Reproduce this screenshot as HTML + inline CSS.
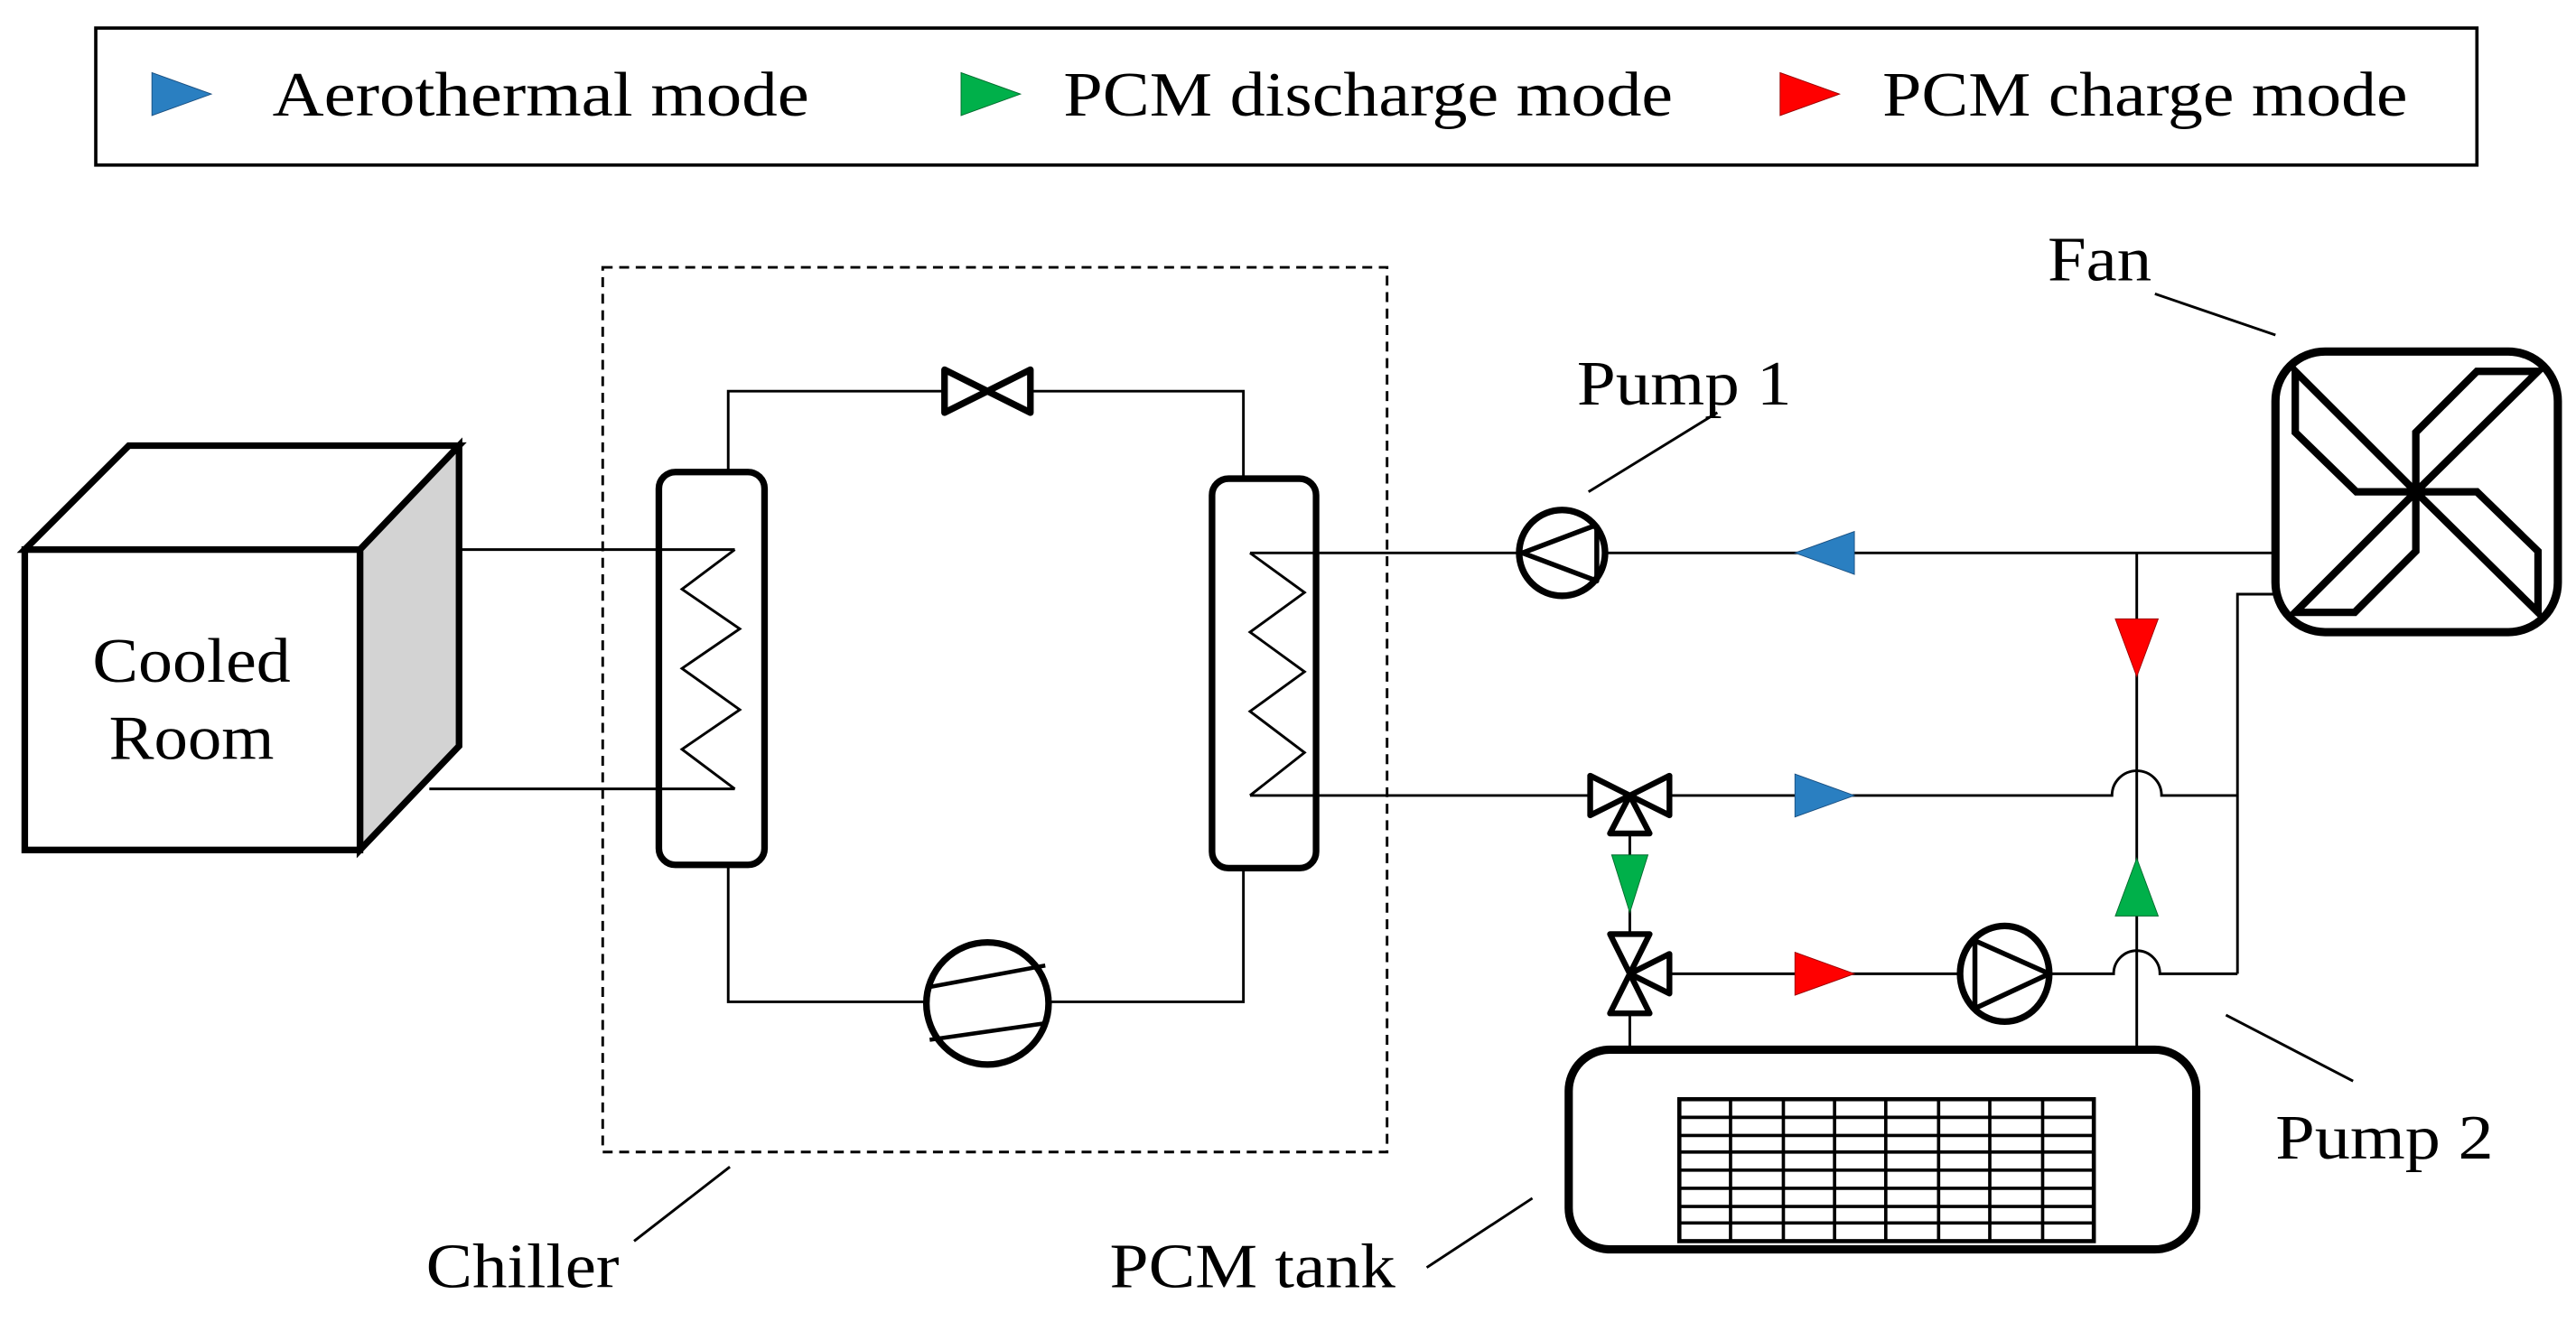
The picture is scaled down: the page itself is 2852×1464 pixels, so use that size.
<!DOCTYPE html>
<html><head><meta charset="utf-8"><style>
html,body{margin:0;padding:0;background:#fff;}
svg{display:block;}
text{font-family:"Liberation Serif",serif;font-size:38px;fill:#000;}
</style></head><body>
<svg width="2852" height="1464" viewBox="0 0 1560 801" preserveAspectRatio="none" xmlns="http://www.w3.org/2000/svg">
<rect width="1560" height="801" fill="#fff"/>
<!-- legend -->
<rect x="58" y="17" width="1442" height="83" fill="none" stroke="#000" stroke-width="2"/>
<polygon points="92,44 128,57 92,70" fill="#2a7fc1" stroke="#1a4f80" stroke-width="0.5"/>
<text x="165" y="70" textLength="325" lengthAdjust="spacingAndGlyphs">Aerothermal mode</text>
<polygon points="582,44 618,57 582,70" fill="#00b04a" stroke="#006a2c" stroke-width="0.5"/>
<text x="644" y="70" textLength="369" lengthAdjust="spacingAndGlyphs">PCM discharge mode</text>
<polygon points="1078,44 1114,57 1078,70" fill="#ff0000" stroke="#900" stroke-width="0.5"/>
<text x="1140" y="70" textLength="318" lengthAdjust="spacingAndGlyphs">PCM charge mode</text>

<!-- cube -->
<g stroke="#000" stroke-width="4" stroke-linejoin="miter">
<polygon points="15,333 78,270 278,270 218,333" fill="#fff"/>
<polygon points="218,333 278,270 278,452 218,515" fill="#d3d3d3"/>
<rect x="15" y="333" width="203" height="182" fill="#fff"/>
</g>
<text x="56" y="413" textLength="120" lengthAdjust="spacingAndGlyphs">Cooled</text>
<text x="66" y="460" textLength="100" lengthAdjust="spacingAndGlyphs">Room</text>

<g fill="none" stroke="#000" stroke-width="1.6">
<line x1="278" y1="333" x2="445" y2="333"/>
<line x1="260" y1="478" x2="445" y2="478"/>
<polyline points="441,286 441,237 753,237 753,290"/>
<polyline points="441,524 441,607 753,607 753,526"/>
<polyline points="445,333 413,357 448,381 413,405 448,430 413,454 445,478"/>
<polyline points="757,335 790,359 757,383 790,407 757,431 790,456 757,482"/>
<line x1="757" y1="335" x2="1378" y2="335"/>
<line x1="757" y1="482" x2="962" y2="482"/>
<path d="M1012,482 H1279 A15,15 0 0 1 1309,482 H1355"/>
<path d="M1012,590 H1187"/>
<path d="M1241,590 H1280 A14,14 0 0 1 1308,590 H1355"/>
<line x1="1294" y1="335" x2="1294" y2="636"/>
<polyline points="1355,590 1355,360 1378,360"/>
<line x1="987" y1="505" x2="987" y2="565"/>
<line x1="987" y1="615" x2="987" y2="636"/>
<line x1="1305" y1="178" x2="1378" y2="203"/>
<line x1="962" y1="298" x2="1040" y2="250"/>
<line x1="1348" y1="615" x2="1425" y2="655"/>
<line x1="384" y1="752" x2="442" y2="707"/>
<line x1="864" y1="768" x2="928" y2="726"/>
</g>
<rect x="365" y="162" width="475" height="536" fill="none" stroke="#000" stroke-width="1.6" stroke-dasharray="6,4"/>

<g stroke="#000" stroke-width="4" fill="#fff" stroke-linejoin="round">
<rect x="399" y="286" width="64" height="238" rx="10" fill="none"/>
<rect x="734" y="290" width="63" height="236" rx="10" fill="none"/>
<polygon points="572,224 598,237 572,250"/>
<polygon points="624,224 598,237 624,250"/>
<circle cx="598" cy="608" r="37"/>
<line x1="563" y1="598" x2="633" y2="585" stroke-width="2.5"/>
<line x1="563" y1="630" x2="633" y2="620" stroke-width="2.5"/>
<circle cx="946" cy="335" r="26"/>
<polyline points="967,318 922,335 967,352 967,318" fill="none" stroke-width="3"/>
<polygon points="963,470 987,482 963,494" stroke-width="3.5"/>
<polygon points="1011,470 987,482 1011,494" stroke-width="3.5"/>
<polygon points="987,482 975,505 999,505" stroke-width="3.5"/>
<polygon points="975,566 999,566 987,590" stroke-width="3.5"/>
<polygon points="975,614 999,614 987,590" stroke-width="3.5"/>
<polygon points="987,590 1011,578 1011,602" stroke-width="3.5"/>
<ellipse cx="1214" cy="590" rx="27" ry="29"/>
<polyline points="1196,570 1241,590 1196,611 1196,570" fill="none" stroke-width="3"/>
<rect x="1378" y="213" width="171" height="170" rx="30" stroke-width="5"/>
<g fill="none" stroke-width="4.5" stroke-linejoin="miter">
<polygon points="1390,225 1463,298 1427,298 1390,262"/>
<polygon points="1537,225 1463,298 1463,262 1500,225"/>
<polygon points="1537,371 1463,298 1500,298 1537,334"/>
<polygon points="1390,371 1463,298 1463,334 1426,371"/>
</g>
<rect x="950" y="636" width="380" height="121" rx="25" stroke-width="5"/>
</g>
<g stroke="#000" stroke-width="2" fill="none">
<rect x="1017" y="666" width="251" height="86" stroke-width="2.5"/>
<path d="M1048,666V752M1080,666V752M1111,666V752M1142,666V752M1174,666V752M1205,666V752M1237,666V752"/>
<path d="M1017,677H1268M1017,688H1268M1017,698H1268M1017,709H1268M1017,720H1268M1017,731H1268M1017,741H1268"/>
</g>
<polygon points="1123,322 1087,335 1123,348" fill="#2a7fc1" stroke="#1a4f80" stroke-width="0.5"/>
<polygon points="1087,469 1123,482 1087,495" fill="#2a7fc1" stroke="#1a4f80" stroke-width="0.5"/>
<polygon points="1087,577 1123,590 1087,603" fill="#ff0000" stroke="#900" stroke-width="0.5"/>
<polygon points="1281,375 1307,375 1294,410" fill="#ff0000" stroke="#900" stroke-width="0.5"/>
<polygon points="1281,555 1307,555 1294,520" fill="#00b04a" stroke="#006a2c" stroke-width="0.5"/>
<polygon points="976,518 998,518 987,553" fill="#00b04a" stroke="#006a2c" stroke-width="0.5"/>
<text x="1240" y="170" textLength="63" lengthAdjust="spacingAndGlyphs">Fan</text>
<text x="955" y="245" textLength="130" lengthAdjust="spacingAndGlyphs">Pump 1</text>
<text x="1378" y="702" textLength="132" lengthAdjust="spacingAndGlyphs">Pump 2</text>
<text x="258" y="780" textLength="117" lengthAdjust="spacingAndGlyphs">Chiller</text>
<text x="672" y="780" textLength="173" lengthAdjust="spacingAndGlyphs">PCM tank</text>
</svg>
</body></html>
